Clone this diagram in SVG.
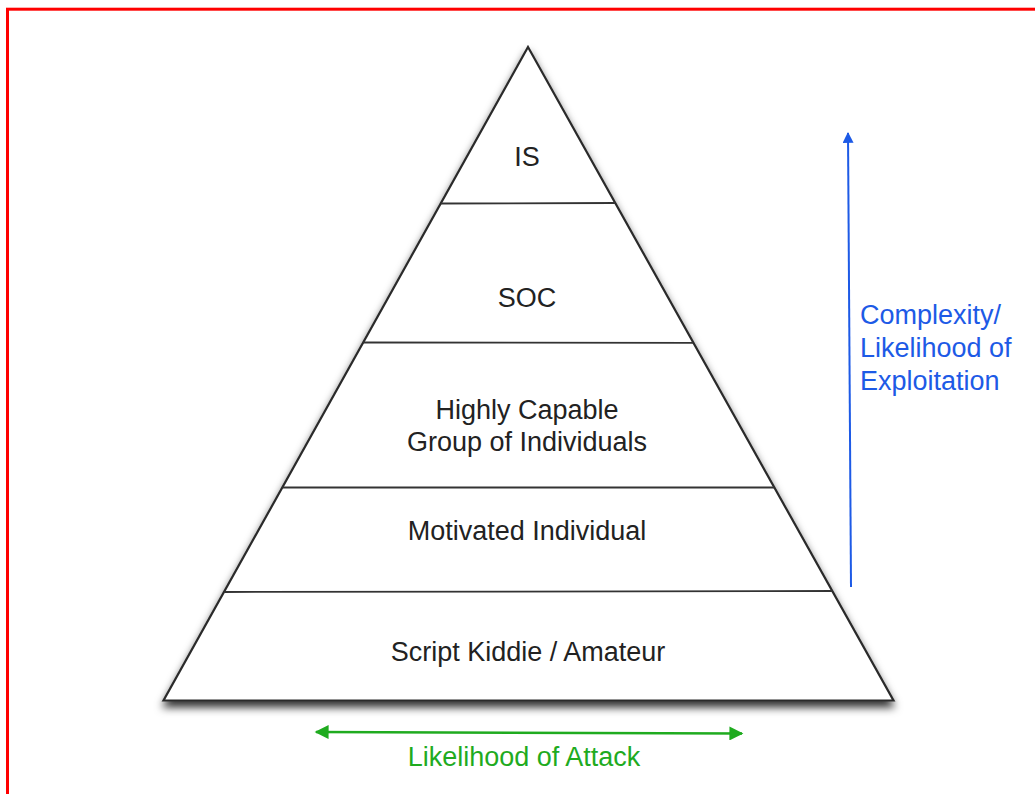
<svg xmlns="http://www.w3.org/2000/svg" width="1035" height="794" viewBox="0 0 1035 794">
  <style>
    .label { font-family: "Liberation Sans", Arial, Helvetica, sans-serif; font-size: 27px; fill: #222; text-anchor: middle; }
    .blue { font-family: "Liberation Sans", Arial, Helvetica, sans-serif; font-size: 27px; fill: #1d5ae6; }
    .green { font-family: "Liberation Sans", Arial, Helvetica, sans-serif; font-size: 27px; fill: #1fab1f; text-anchor: middle; }
    .sep { stroke: #333; stroke-width: 1.8; fill: none; }
  </style>
  <defs>
    <filter id="shadow" x="-10%" y="-10%" width="120%" height="125%">
      <feDropShadow dx="0" dy="6" stdDeviation="4" flood-color="#000" flood-opacity="0.8"/>
    </filter>
    <marker id="headBlue" viewBox="0 0 10 10" refX="9" refY="5" markerWidth="17" markerHeight="11" markerUnits="userSpaceOnUse" orient="auto">
      <path d="M0,0 L10,5 L0,10 Z" fill="#1d5ae6"/>
    </marker>
    <marker id="headGreen" viewBox="0 0 10 10" refX="9" refY="5" markerWidth="18" markerHeight="14" markerUnits="userSpaceOnUse" orient="auto-start-reverse">
      <path d="M0,0 L10,5 L0,10 Z" fill="#1fab1f"/>
    </marker>
  </defs>

  <rect width="1035" height="794" fill="#fff"/>
  <!-- red frame -->
  <rect x="7.5" y="9.2" width="1100" height="900" fill="none" stroke="#ff0000" stroke-width="3"/>

  <!-- pyramid outline -->
  <g id="pyramid">
    <polygon points="528,47 893.5,700.5 163.5,700.5" fill="#fff" stroke="#2a2a2a" stroke-width="2.2" stroke-linejoin="miter" filter="url(#shadow)"/>
    <line class="sep" x1="440.7" y1="203.5" x2="615.5" y2="203"/>
    <line class="sep" x1="363.2" y1="342.5" x2="693.3" y2="342.8"/>
    <line class="sep" x1="282.3" y1="487.5" x2="774.4" y2="487.5"/>
    <line class="sep" x1="224.3" y1="592" x2="832.5" y2="591"/>
  </g>

  <g id="tier-is">
    <text class="label" x="527" y="166">IS</text>
  </g>
  <g id="tier-soc">
    <text class="label" x="527" y="307">SOC</text>
  </g>
  <g id="tier-group">
    <text class="label" x="527" y="419">Highly Capable</text>
    <text class="label" x="527" y="451">Group of Individuals</text>
  </g>
  <g id="tier-individual">
    <text class="label" x="527" y="540">Motivated Individual</text>
  </g>
  <g id="tier-amateur">
    <text class="label" x="528" y="661">Script Kiddie / Amateur</text>
  </g>

  <g id="connectors">
    <line x1="851" y1="587" x2="848" y2="133" stroke="#1d5ae6" stroke-width="2" marker-end="url(#headBlue)"/>
    <line x1="316" y1="732" x2="742" y2="733.5" stroke="#1fab1f" stroke-width="2.4" marker-start="url(#headGreen)" marker-end="url(#headGreen)"/>
  </g>

  <g id="axis-complexity">
    <text class="blue" x="860" y="324">Complexity/</text>
    <text class="blue" x="860" y="357">Likelihood of</text>
    <text class="blue" x="860" y="390">Exploitation</text>
  </g>
  <g id="axis-attack">
    <text class="green" x="524" y="766">Likelihood of Attack</text>
  </g>
</svg>
